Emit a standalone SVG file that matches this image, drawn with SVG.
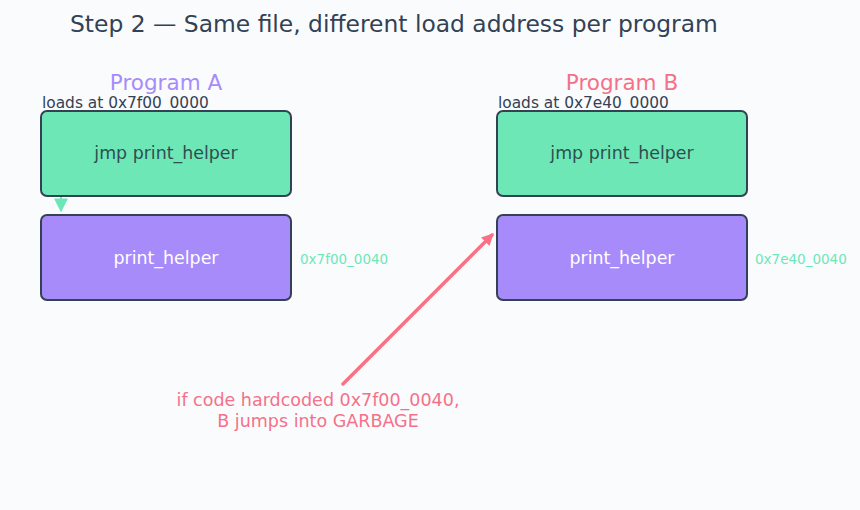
<svg xmlns="http://www.w3.org/2000/svg" width="860" height="510" viewBox="0 0 860 510">
  <defs>
    <marker id="headGreen" viewBox="0 0 10 10" refX="9" refY="5" markerWidth="14" markerHeight="14" markerUnits="userSpaceOnUse" orient="auto">
      <path d="M0,0 L10,5 L0,10 Z" fill="#6ee7b7"/>
    </marker>
    <marker id="headRose" viewBox="0 0 10 10" refX="8" refY="5" markerWidth="12" markerHeight="12" markerUnits="userSpaceOnUse" orient="auto">
      <path d="M0,0 L10,5 L0,10 Z" fill="#f87187"/>
    </marker>
  </defs>
  <style>
    text { font-family: "DejaVu Sans", "Liberation Sans", sans-serif; }
    .title { font-size: 23.4px; fill: #334155; }
    .prog { font-size: 21.5px; text-anchor: middle; }
    .load { font-size: 15.4px; fill: #334155; }
    .box { stroke: #334155; stroke-width: 2; }
    .jmp { fill: #6ee7b7; }
    .fn { fill: #a78bfa; }
    .jmpText { font-size: 17.4px; fill: #2f4f4f; text-anchor: middle; }
    .fnText { font-size: 17.4px; fill: #ffffff; text-anchor: middle; }
    .addr { font-size: 13.5px; fill: #6ee7b7; }
    .warn { font-size: 17.5px; fill: #f47189; text-anchor: middle; }
  </style>
  <rect width="860" height="510" fill="#fafbfd"/>
  <text class="title" x="70" y="32">Step 2 — Same file, different load address per program</text>

  <g id="programA">
    <text class="prog" x="166" y="90" fill="#a78bfa">Program A</text>
    <text class="load" x="42" y="108">loads at 0x7f00_0000</text>
  </g>
  <g id="jmpA">
    <rect class="box jmp" x="41" y="111" width="250" height="85" rx="6"/>
    <text class="jmpText" x="166" y="159">jmp print_helper</text>
  </g>
  <g id="helperA">
    <rect class="box fn" x="41" y="215" width="250" height="85" rx="6"/>
    <text class="fnText" x="166" y="264">print_helper</text>
    <text class="addr" x="300" y="264">0x7f00_0040</text>
  </g>

  <g id="programB">
    <text class="prog" x="622" y="90" fill="#f47189">Program B</text>
    <text class="load" x="498" y="108">loads at 0x7e40_0000</text>
  </g>
  <g id="jmpB">
    <rect class="box jmp" x="497" y="111" width="250" height="85" rx="6"/>
    <text class="jmpText" x="622" y="159">jmp print_helper</text>
  </g>
  <g id="helperB">
    <rect class="box fn" x="497" y="215" width="250" height="85" rx="6"/>
    <text class="fnText" x="622" y="264">print_helper</text>
    <text class="addr" x="755" y="264">0x7e40_0040</text>
  </g>

  <g id="connectors">
    <path d="M61,197 L61,211" stroke="#6ee7b7" stroke-width="2" fill="none" marker-end="url(#headGreen)"/>
    <path d="M343,384 L492,235" stroke="#f87187" stroke-width="3.5" fill="none" stroke-linecap="round" marker-end="url(#headRose)"/>
  </g>

  <g id="warning">
    <text class="warn" x="318" y="406">if code hardcoded 0x7f00_0040,</text>
    <text class="warn" x="318" y="427">B jumps into GARBAGE</text>
  </g>
</svg>
